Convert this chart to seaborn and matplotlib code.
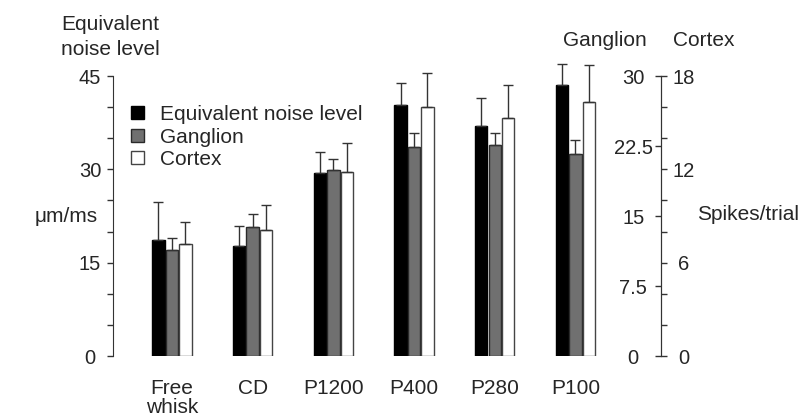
import numpy as np
import pandas as pd
import seaborn as sns
import matplotlib.pyplot as plt
from matplotlib.patches import Patch
from matplotlib.ticker import MultipleLocator, FixedLocator

categories = ["Free\nwhisk", "CD", "P1200", "P400", "P280", "P100"]
series = ["Equivalent noise level", "Ganglion", "Cortex"]
enl = [18.6, 17.6, 29.4, 40.3, 36.9, 43.5]
enl_err = [6.2, 3.3, 3.4, 3.5, 4.5, 3.5]
ganglion = [11.4, 13.8, 19.9, 22.4, 22.6, 21.6]
ganglion_err = [1.2, 1.4, 1.25, 1.5, 1.3, 1.5]
cortex = [7.2, 8.1, 11.8, 16.0, 15.3, 16.3]
cortex_err = [1.4, 1.6, 1.9, 2.2, 2.1, 2.4]

sns.set_style("white")
plt.rcParams["font.family"] = ["Liberation Sans", "DejaVu Sans"]
FS = 15
TFS = 14.5

fill = {"Equivalent noise level": "#000000", "Ganglion": "#707070", "Cortex": "#ffffff"}
edge = {"Equivalent noise level": "#000000", "Ganglion": "#2a2a2a", "Cortex": "#444444"}

fig = plt.figure(figsize=(8.05, 4.18), dpi=100)
ax = fig.add_axes([113 / 805, 1 - 356 / 418, (661 - 113) / 805, (356 - 76) / 418])
axg = ax.twinx()
axc = ax.twinx()

datasets = [
    (ax, series[0], enl, enl_err, 45),
    (axg, series[1], ganglion, ganglion_err, 30),
    (axc, series[2], cortex, cortex_err, 18),
]
for a, name, vals, errs, top in datasets:
    df = pd.DataFrame({"category": categories, "series": name, "value": vals})
    sns.barplot(data=df, x="category", y="value", hue="series", hue_order=series,
                order=categories, palette=fill, dodge=True, width=0.5, gap=0.08,
                errorbar=None, legend=False, ax=a,
                edgecolor=edge[name], linewidth=1.0)
    bars = sorted(a.patches, key=lambda p: p.get_x())
    xs = [p.get_x() + p.get_width() / 2 for p in bars]
    hs = [p.get_height() for p in bars]
    cont = a.errorbar(xs, hs, yerr=[np.zeros(len(errs)), errs], fmt="none",
                      ecolor="#333333", elinewidth=1.0, capsize=3.5, capthick=1.0)
    for child in cont.get_children():
        child.set_clip_on(False)
    a.set_ylim(0, top)
    a.set_xlabel("")
    a.set_ylabel("")

ax.set_xlim(-0.73, 6.06)

# left axis
for s in ["top", "right", "bottom"]:
    ax.spines[s].set_visible(False)
ax.spines["left"].set_color("#333333")
ax.yaxis.set_major_locator(FixedLocator([0, 15, 30, 45]))
ax.yaxis.set_minor_locator(MultipleLocator(5))
ax.tick_params(axis="y", which="both", left=True, direction="out", length=4,
               width=1, color="#333333", labelsize=TFS, pad=12.5)
for t in ax.get_yticklabels():
    t.set_horizontalalignment("center")
ax.tick_params(axis="x", length=0, labelsize=FS, pad=16.5)
for t in ax.get_xticklabels():
    t.set_linespacing(1.0)

# ganglion axis (labels left of right spine)
for s in ["top", "right", "bottom"]:
    axg.spines[s].set_visible(False)
axg.spines["left"].set_visible(True)
axg.spines["left"].set_position(("axes", 1.0))
axg.spines["left"].set_color("#333333")
axg.yaxis.set_ticks_position("left")
axg.yaxis.set_major_locator(FixedLocator([0, 7.5, 15, 22.5, 30]))
axg.yaxis.set_major_formatter(plt.FuncFormatter(lambda v, p: f"{v:g}"))
axg.tick_params(axis="y", which="both", left=True, right=False, labelleft=True,
                labelright=False, direction="out", length=4, width=1,
                color="#333333", labelsize=TFS, pad=16)
for t in axg.get_yticklabels():
    t.set_horizontalalignment("center")

# cortex axis
for s in ["top", "left", "bottom"]:
    axc.spines[s].set_visible(False)
axc.spines["right"].set_color("#333333")
axc.yaxis.set_major_locator(FixedLocator([0, 6, 12, 18]))
axc.yaxis.set_minor_locator(MultipleLocator(2))
axc.tick_params(axis="y", which="both", right=True, direction="out", length=4,
                width=1, color="#333333", labelsize=TFS, pad=12.5)
for t in axc.get_yticklabels():
    t.set_horizontalalignment("center")

# texts
fig.text(61 / 805, 1 - 15 / 418, "Equivalent\nnoise level", ha="left", va="top",
         fontsize=FS, linespacing=1.42)
fig.text(35 / 805, 1 - 217 / 418, "\u03bcm/ms", ha="left", va="center", fontsize=FS)
fig.text(563 / 805, 1 - 40 / 418, "Ganglion", ha="left", va="center", fontsize=FS)
fig.text(673 / 805, 1 - 40 / 418, "Cortex", ha="left", va="center", fontsize=FS)
fig.text(697 / 805, 1 - 215 / 418, "Spikes/trial", ha="left", va="center", fontsize=FS)

handles = [Patch(facecolor=fill[s], edgecolor=edge[s], linewidth=1.0) for s in series]
fig.legend(handles, series, loc="upper left", bbox_to_anchor=(131 / 805, 1 - 105 / 418),
           frameon=False, fontsize=FS, handlelength=0.6, handleheight=0.6,
           handletextpad=0.8, labelspacing=0.17, borderpad=0, borderaxespad=0)

fig.savefig("out.png", dpi=100)
